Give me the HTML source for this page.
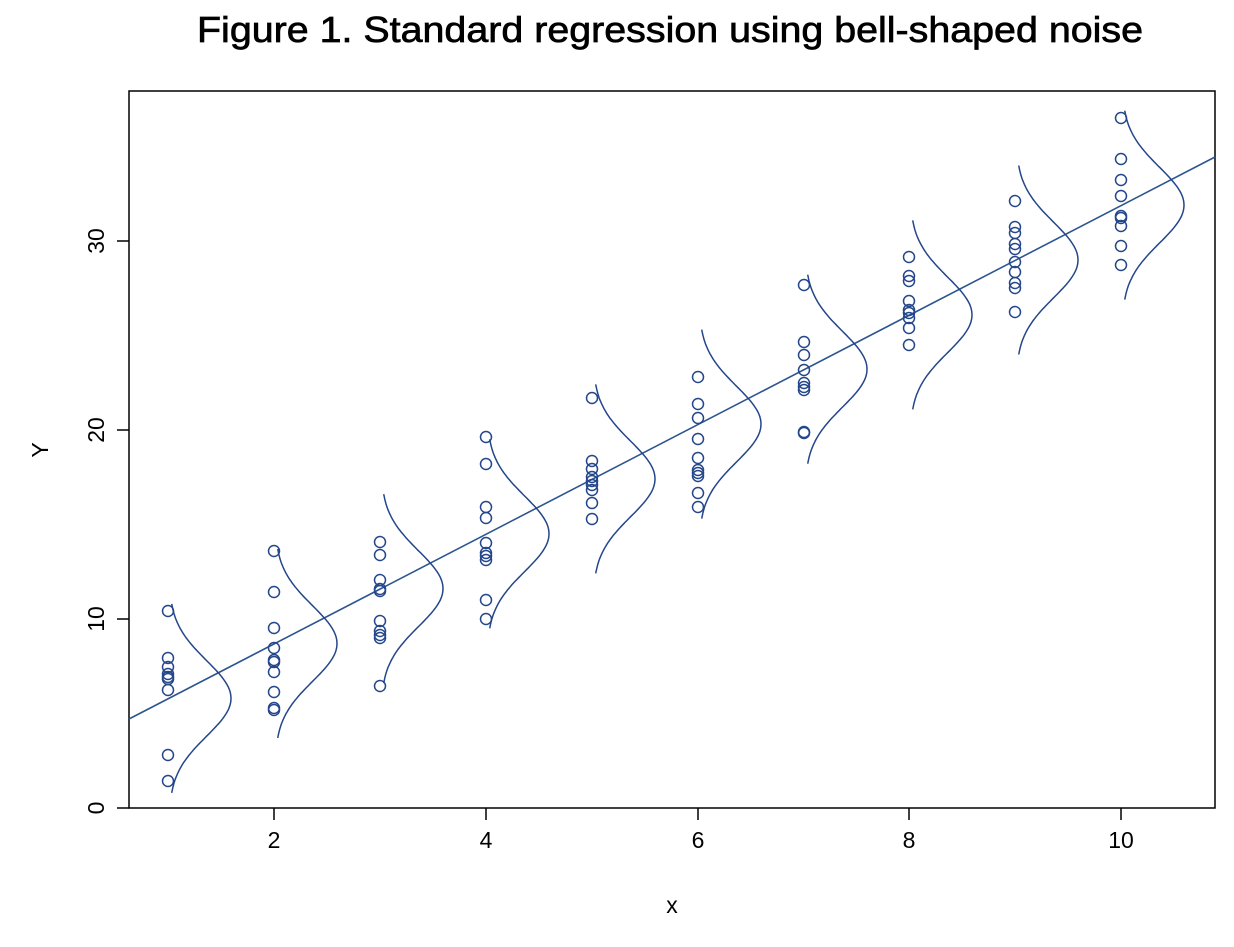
<!DOCTYPE html>
<html><head><style>
body{margin:0;background:#fff;}
svg text{font-family:"Liberation Sans",Arial,sans-serif;}
</style></head><body>
<svg id="s" width="1234" height="942" xmlns="http://www.w3.org/2000/svg">
<text x="197" y="42" font-size="36" textLength="946" lengthAdjust="spacingAndGlyphs" fill="#000" stroke="#000" stroke-width="0.7">Figure 1.  Standard regression using bell-shaped noise</text>
<rect x="129" y="91" width="1086" height="717" fill="none" stroke="#000" stroke-width="1.5"/>
<g stroke="#000" stroke-width="1.5">
<line x1="274" y1="808" x2="274" y2="820"/><line x1="486" y1="808" x2="486" y2="820"/><line x1="698" y1="808" x2="698" y2="820"/><line x1="909" y1="808" x2="909" y2="820"/><line x1="1121" y1="808" x2="1121" y2="820"/>
<line x1="117" y1="808" x2="129" y2="808"/><line x1="117" y1="619" x2="129" y2="619"/><line x1="117" y1="430" x2="129" y2="430"/><line x1="117" y1="241" x2="129" y2="241"/>
</g>
<g font-size="23" text-anchor="middle" fill="#000">
<text x="274" y="848">2</text><text x="486" y="848">4</text><text x="698" y="848">6</text><text x="909" y="848">8</text><text x="1121" y="848">10</text>
<text x="672" y="913">x</text>
<text transform="translate(104,808) rotate(-90)">0</text>
<text transform="translate(104,619) rotate(-90)">10</text>
<text transform="translate(104,430) rotate(-90)">20</text>
<text transform="translate(104,241) rotate(-90)">30</text>
<text transform="translate(48,450) rotate(-90)">Y</text>
</g>
<line x1="129" y1="719" x2="1215" y2="157" stroke="#2c5590" stroke-width="1.6"/>
<g id="g" fill="none" stroke="#24468a" stroke-width="1.5"></g>
</svg>
<script>
var g=document.getElementById('g');
var pts=[[168,[611,658,667,674,677,679,690,755,781]],[274,[551,592,628,648,660,662,672,692,708,710]],[380,[542,555,580,589,591,621,631,635,638,686]],[486,[437,464,507,518,543,553,556,560,600,619]],[592,[398,461,469,477,481,485,490,503,519]],[698,[377,404,418,439,458,470,473,476,493,507]],[804,[285,342,355,370,383,387,390,432,433]],[909,[257,276,281,301,310,313,318,328,345]],[1015,[201,227,233,244,249,262,272,283,288,312]],[1121,[118,159,180,196,216,218,226,246,265]]];
var h='';
pts.forEach(function(p){p[1].forEach(function(y){h+='<circle cx="'+p[0]+'" cy="'+y+'" r="5.5"/>';});
 var x0=p[0]+1,xv=(p[0]-168)/105.9+1,mu=808-(2.9*xv+2.9)*18.9,sd=37.8,d='';
 for(var i=0;i<=100;i++){var y=mu+94.5-i*1.89,t=(y-mu)/sd;var x=x0+62*Math.exp(-t*t/2);d+=(i?'L':'M')+x.toFixed(1)+' '+y.toFixed(1);}
 h+='<path d="'+d+'"/>';});
g.innerHTML=h;
</script>
</body></html>
